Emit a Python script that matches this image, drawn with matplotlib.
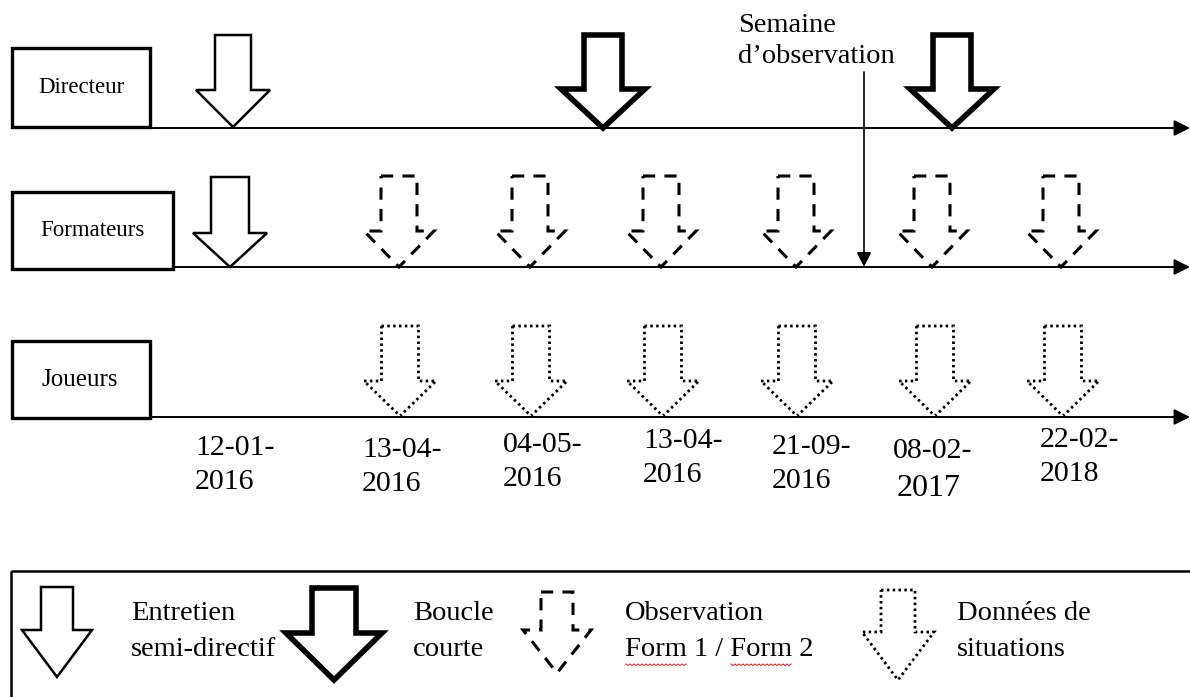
import matplotlib
matplotlib.use("Agg")
from matplotlib import pyplot as plt
from matplotlib.patches import Polygon, Rectangle
import numpy as np

plt.rcParams['font.family'] = ['Liberation Serif', 'DejaVu Serif']

# acteurs (lignes du temps)
acteurs = ["Directeur", "Formateurs", "Joueurs"]

# dates des recueils
dates = ["12-01-\n2016", "13-04-\n2016", "04-05-\n2016", "13-04-\n2016",
         "21-09-\n2016", "08-02-\n2017", "22-02-\n2018"]

# type de recueil par acteur et par date (None = rien)
directeur = ["entretien", None, None, "boucle", None, "boucle", None]
formateurs = ["entretien", "observation", "observation", "observation",
              "observation", "observation", "observation"]
joueurs = [None, "situations", "situations", "situations",
           "situations", "situations", "situations"]

legende = ["Entretien\nsemi-directif", "Boucle\ncourte",
           "Observation\nForm 1 / Form 2", "Données de\nsituations"]
semaine = "Semaine\nd’observation"

# ---- mise en page (pixels) ----
fig = plt.figure(figsize=(11.9, 6.97), dpi=100)
ax = fig.add_axes([0, 0, 1, 1])
ax.set_xlim(0, 1190)
ax.set_ylim(697, 0)
ax.axis('off')

styles = {
    "entretien": dict(lw=1.8, ls='-'),
    "boucle": dict(lw=4.0, ls='-'),
    "observation": dict(lw=2.2, ls=(0, (4, 3))),
    "situations": dict(lw=2.0, ls=(0, (0.9, 1.2))),
}


def fleche(cx, top, neck, tip, shaft, head, kind):
    pts = [(cx - shaft, top), (cx + shaft, top), (cx + shaft, neck),
           (cx + head, neck), (cx, tip), (cx - head, neck), (cx - shaft, neck)]
    st = styles[kind]
    ax.add_patch(Polygon(pts, closed=True, fill=True, facecolor='white',
                         edgecolor='black', linewidth=st['lw'],
                         linestyle=st['ls'], joinstyle='miter', zorder=3))


# boites des acteurs
boxes = [(12, 48, 138, 79), (12, 192, 161, 77), (12, 341, 138, 77)]
label_x = [81, 92, 80]
label_fs = [16.5, 16.5, 18]
lines_y = [128, 267, 417]
line_x0 = [140, 173, 150]
for i, name in enumerate(acteurs):
    x, y, w, h = boxes[i]
    ax.add_patch(Rectangle((x, y), w, h, fill=False, lw=2.4, ec='black', zorder=4))
    ax.text(label_x[i], y + h / 2, name, ha='center', va='center',
            fontsize=label_fs[i], zorder=5)
    ax.annotate('', xy=(1190, lines_y[i]), xytext=(line_x0[i], lines_y[i]),
                arrowprops=dict(arrowstyle='-|>', lw=1.4, color='black',
                                mutation_scale=24, shrinkA=0, shrinkB=0))

# positions horizontales des fleches
dir_x = [233, None, None, 603, None, 952, None]
form_x = [230, 399, 530, 661, 796, 932, 1061]
joue_x = [None, 400, 531, 663, 797, 935, 1063]

for x, k in zip(dir_x, directeur):
    if k == "entretien":
        fleche(x, 35, 90, 127, 18, 37, k)
    elif k == "boucle":
        fleche(x, 35, 89, 128, 19, 42, k)

for x, k in zip(form_x, formateurs):
    if k == "entretien":
        fleche(x, 177, 233, 267, 19, 37, k)
    elif k == "observation":
        fleche(x, 176, 231, 267, 18, 35, k)

for x, k in zip(joue_x, joueurs):
    if k == "situations":
        fleche(x, 326, 381, 416, 18.5, 36, k)

# semaine d'observation
ax.text(738, 41, semaine, ha='left', va='center', fontsize=20.5,
        linespacing=1.3, zorder=5)
ax.annotate('', xy=(864, 267), xytext=(864, 72),
            arrowprops=dict(arrowstyle='-|>', lw=1.2, color='black',
                            mutation_scale=22, shrinkA=0, shrinkB=0))

# dates
date_x = [195, 362, 503, 643, 772, 893, 1040]
date_y = [465, 467, 462, 458, 464, 468, 457]
for x, y, d in zip(date_x, date_y, dates):
    l1, l2 = d.split("\n")
    ax.text(x, y - 17, l1, ha='left', va='center', fontsize=21.5)
    if l2 == "2017":
        ax.text(x + 4, y + 21, l2, ha='left', va='center', fontsize=23)
    else:
        ax.text(x, y + 17, l2, ha='left', va='center', fontsize=21.5)

# legende
ax.add_patch(Rectangle((11, 571), 1200, 200, fill=False, lw=1.8, ec='black', zorder=4))
leg_kinds = ["entretien", "boucle", "observation", "situations"]
leg_arrows = [(57, 587, 630, 677, 16, 35), (334, 588, 633, 680, 22, 48),
              (557, 592, 630, 673, 16, 34), (898, 590, 632, 680, 17, 36)]
leg_tx = [131, 413, 625, 957]
for k, a, tx, lab in zip(leg_kinds, leg_arrows, leg_tx, legende):
    fleche(*a, k)
    l1, l2 = lab.split("\n")
    ax.text(tx, 613, l1, ha='left', va='center', fontsize=20.5)
    ax.text(tx, 649, l2, ha='left', va='center', fontsize=20.5)

# soulignement du correcteur sous "Form"
for x0, x1 in ((626, 687), (731, 792)):
    xs = np.arange(x0, x1, 2.0)
    ys = 664 + np.where(np.arange(len(xs)) % 2 == 0, 0, 1.6)
    ax.plot(xs, ys, color='#e03030', lw=0.8)

fig.savefig('out.png', dpi=100)
